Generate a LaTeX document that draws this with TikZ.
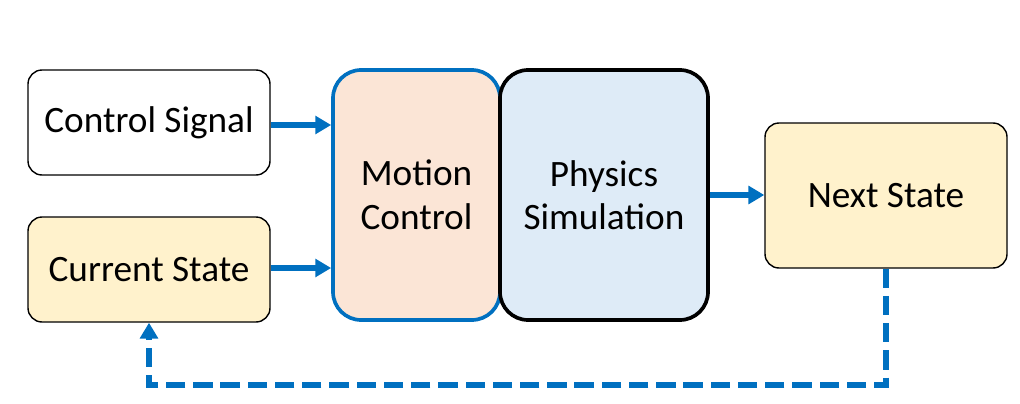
\documentclass[tikz,border=0pt]{standalone}
\usepackage{fontspec}
\setmainfont{Carlito}
\usepackage{xcolor}
\usetikzlibrary{arrows.meta,positioning,calc}

\definecolor{flowblue}{HTML}{0070C0}
\definecolor{stateyellow}{HTML}{FFF2CC}
\definecolor{motionpeach}{HTML}{FBE5D6}
\definecolor{physblue}{HTML}{DEEBF7}

\begin{document}
\begin{tikzpicture}[x=0.02cm, y=0.02cm,
  font=\fontsize{21.2}{24.8}\selectfont,
  io/.style={draw=black, line width=0.8pt, rounded corners=8pt, inner sep=0pt,
    minimum width=242*0.02cm, minimum height=105*0.02cm, align=center},
  core/.style={line width=2.1pt, rounded corners=16pt, inner sep=0pt,
    minimum height=250*0.02cm, align=center},
  flow/.style={draw=flowblue, line width=3.4pt,
    -{Triangle[length=9pt, width=10pt]}},
  loop/.style={flow, dash pattern=on 11pt off 4.5pt}]
\useasboundingbox (0,0) rectangle (1020,403);
% inputs
\node[io, fill=white] (ctrl) at (149,280.5) {Control Signal};
\node[io, fill=stateyellow] (cur) at (149,133.5) {Current State};
% the model
\node[core, draw=flowblue, fill=motionpeach, minimum width=167*0.02cm]
  (motion) at (416.5,208) {Motion\\Control};
\node[core, draw=black, fill=physblue, minimum width=208*0.02cm]
  (phys) at (604,208) {Physics\\Simulation};
% output
\node[io, fill=stateyellow, minimum height=145*0.02cm] (next) at (886,207.5) {Next State};
\draw[flow] (ctrl.east |- 0,278) -- (motion.west |- 0,278);
\draw[flow] (cur.east |- 0,135) -- (motion.west |- 0,135);
\draw[flow] (phys.east) -- (next.west |- phys.east);
% feed back
\coordinate (down) at (next.south |- 0,18);
\coordinate (back) at (cur.south |- 0,18);
\draw[loop, line join=miter] (next.south) -- (down) -- (back) -- (cur.south);
\end{tikzpicture}
\end{document}
